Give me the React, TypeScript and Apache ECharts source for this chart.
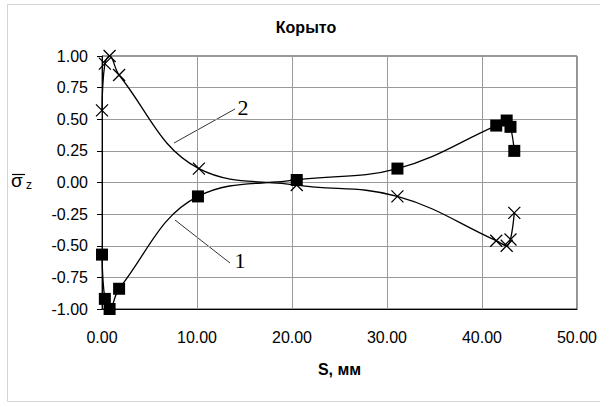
import React, { useEffect, useRef } from "react";
import * as echarts from "echarts";

const titleText = "Корыто";
const xAxisName = "S, мм";
const xMin = 0;
const xMax = 50;
const xInterval = 10;
const yMin = -1;
const yMax = 1;
const yInterval = 0.25;

// Curve 1 (squares)
const s1X = [0.0, 0.3, 0.8, 1.8, 10.1, 20.5, 31.1, 41.5, 42.6, 43.0, 43.4];
const s1Y = [-0.57, -0.92, -1.0, -0.84, -0.11, 0.02, 0.11, 0.45, 0.49, 0.44, 0.25];
// Curve 2 (crosses)
const s2X = [0.0, 0.3, 0.8, 1.8, 10.2, 20.5, 31.1, 41.5, 42.6, 43.0, 43.4];
const s2Y = [0.57, 0.94, 1.0, 0.85, 0.11, -0.02, -0.11, -0.46, -0.5, -0.45, -0.24];

const FONT = "'Liberation Sans', Arial, sans-serif";
const SERIF = "'Liberation Serif', 'Times New Roman', serif";

export default function App() {
  const ref = useRef<HTMLDivElement>(null);
  useEffect(() => {
    document.body.style.margin = "0";
    const chart = echarts.init(ref.current!, null, { renderer: "svg" });
    const d1 = s1X.map((x, i) => [x, s1Y[i]]);
    const d2 = s2X.map((x, i) => [x, s2Y[i]]);
    chart.setOption({
      animation: false,
      backgroundColor: "#fff",
      grid: { left: 102, right: 22, top: 56, bottom: 94, show: true, borderColor: "#333", borderWidth: 1, backgroundColor: "transparent" },
      xAxis: {
        type: "value",
        min: xMin,
        max: xMax,
        interval: xInterval,
        name: xAxisName,
        nameLocation: "middle",
        nameGap: 52,
        nameTextStyle: { fontFamily: FONT, fontSize: 16, fontWeight: "bold", color: "#000" },
        axisLine: { show: true, onZero: false, lineStyle: { color: "#000", width: 1 } },
        axisTick: { show: false },
        axisLabel: { fontFamily: FONT, fontSize: 16, color: "#000", margin: 20, formatter: (v: number) => v.toFixed(2) },
        splitLine: { show: true, lineStyle: { color: "#9a9a9a", width: 1 } },
      },
      yAxis: {
        type: "value",
        min: yMin,
        max: yMax,
        interval: yInterval,
        axisLine: { show: true, onZero: false, lineStyle: { color: "#000", width: 1 } },
        axisTick: { show: true, length: 5, inside: false, lineStyle: { color: "#000" } },
        axisLabel: { fontFamily: FONT, fontSize: 16, color: "#000", margin: 14, formatter: (v: number) => v.toFixed(2) },
        splitLine: { show: true, lineStyle: { color: "#9a9a9a", width: 1 } },
      },
      series: [
        {
          type: "line",
          name: "1",
          data: d1,
          smooth: 0.4,
          symbol: "rect",
          symbolSize: 12,
          itemStyle: { color: "#000" },
          lineStyle: { color: "#000", width: 1.3 },
          z: 3,
        },
        {
          type: "line",
          name: "2",
          data: d2,
          smooth: 0.4,
          symbol: "path://M0 0L10 10M10 0L0 10",
          symbolSize: 12,
          itemStyle: { color: "transparent", borderColor: "#000", borderWidth: 1.3 },
          lineStyle: { color: "#000", width: 1.3 },
          z: 2,
        },
      ],
      graphic: [
        { type: "rect", shape: { x: 7.5, y: 4.5, width: 600, height: 397 }, style: { fill: "none", stroke: "#d4d4d4", lineWidth: 1 }, z: -10 },
        { type: "text", x: 306, y: 27, style: { text: titleText, font: `bold 16px ${FONT}`, fill: "#000", align: "center", verticalAlign: "middle" } },
        { type: "text", x: 11, y: 180, style: { text: "σ", font: `19px ${FONT}`, fill: "#000", align: "left", verticalAlign: "middle" } },
        { type: "line", shape: { x1: 12, y1: 174.5, x2: 25, y2: 174.5 }, style: { stroke: "#000", lineWidth: 1.2 } },
        { type: "text", x: 26, y: 185, style: { text: "z", font: `12px ${FONT}`, fill: "#000", align: "left", verticalAlign: "middle" } },
        { type: "line", shape: { x1: 235, y1: 109, x2: 174, y2: 143 }, style: { stroke: "#000", lineWidth: 0.8 } },
        { type: "text", x: 243, y: 107, style: { text: "2", font: `22px ${SERIF}`, fill: "#000", align: "center", verticalAlign: "middle" } },
        { type: "line", shape: { x1: 230, y1: 263, x2: 175, y2: 220 }, style: { stroke: "#000", lineWidth: 0.8 } },
        { type: "text", x: 240, y: 260, style: { text: "1", font: `22px ${SERIF}`, fill: "#000", align: "center", verticalAlign: "middle" } },
      ],
    });
    return () => chart.dispose();
  }, []);
  return <div ref={ref} style={{ position: "fixed", left: 0, top: 0, width: 600, height: 403 }} />;
}
